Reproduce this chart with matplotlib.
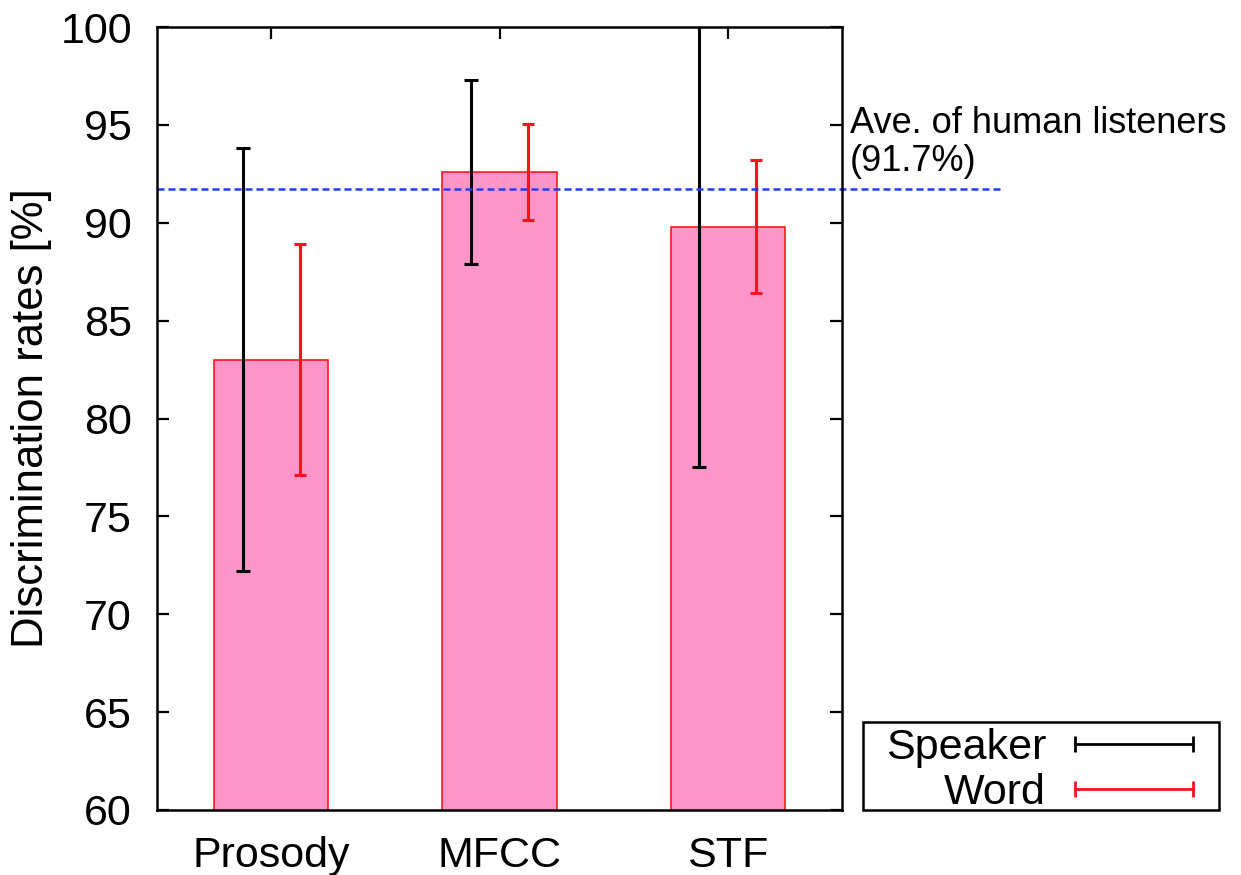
import matplotlib
matplotlib.use("Agg")
import matplotlib.pyplot as plt
from matplotlib.lines import Line2D
from matplotlib.patches import Rectangle
import numpy as np

# ---- data ----
categories = ["Prosody", "MFCC", "STF"]
rates = [83.0, 92.6, 89.8]
speaker_err = [10.8, 4.7, 12.3]
word_err = [5.9, 2.45, 3.4]
human_avg = 91.7
human_label = "Ave. of human listeners\n(91.7%)"
yticks = [60, 65, 70, 75, 80, 85, 90, 95, 100]
series_labels = ["Speaker", "Word"]

plt.rcParams["font.family"] = ["Liberation Sans", "DejaVu Sans"]

fig = plt.figure(figsize=(12.41, 8.75), dpi=100)
ax = fig.add_axes([0.1265, 0.0743, 0.552, 0.8948])

x = np.arange(1, len(categories) + 1)
bar_w = 0.5
off = 0.125

ax.bar(x, rates, width=bar_w, color="#ff96ca", edgecolor="#ff1a1a",
       linewidth=1.2, zorder=2)

ax.errorbar(x - off, rates, yerr=speaker_err, fmt="none", ecolor="black",
            elinewidth=2.2, capsize=5.0, capthick=2.2, zorder=3)
ax.errorbar(x + off, rates, yerr=word_err, fmt="none", ecolor="#ff1020",
            elinewidth=2.2, capsize=4.6, capthick=2.2, zorder=3)

ax.plot([0, 1.235], [human_avg, human_avg], transform=ax.get_yaxis_transform(),
        color="#1f3dff", lw=1.8, dashes=(2.8, 1.6), clip_on=False, zorder=4)
ax.text(1.012, 0.806, human_label, transform=ax.transAxes, ha="left",
        va="bottom", fontsize=26, linespacing=1.12)

ax.set_xlim(0.5, 3.5)
ax.set_ylim(60, 100)
ax.set_yticks(yticks)
ax.set_xticks(x)
ax.set_xticklabels(categories)
ax.set_ylabel("Discrimination rates [%]", fontsize=31.5, labelpad=6)

for s in ax.spines.values():
    s.set_linewidth(1.8)
    s.set_zorder(5)
ax.tick_params(axis="y", which="both", direction="in", length=8.5, width=1.6,
               labelsize=31, pad=18, left=True, right=True)
ax.tick_params(axis="x", which="both", direction="in", length=8.5, width=1.6,
               labelsize=31, pad=19, bottom=False, top=True)

# legend
handles = [
    Line2D([], [], color="black", lw=2.0, marker="|", markersize=12, mew=2.0),
    Line2D([], [], color="#ff1020", lw=2.0, marker="|", markersize=12, mew=2.0),
]
leg = fig.legend(handles, series_labels, loc="center",
                 bbox_to_anchor=(0.8429, 0.119), bbox_transform=fig.transFigure,
                 frameon=False, fontsize=31, markerfirst=False, numpoints=2,
                 handlelength=3.35, handletextpad=0.37, labelspacing=0.12,
                 borderpad=0.0)

frame = Rectangle((863 / 1241, (875 - 810) / 875), (1219 - 863) / 1241,
                  (810 - 722) / 875, transform=fig.transFigure, fill=False,
                  edgecolor="black", linewidth=1.8)
fig.patches.append(frame)

fig.savefig("out.png", dpi=100)
